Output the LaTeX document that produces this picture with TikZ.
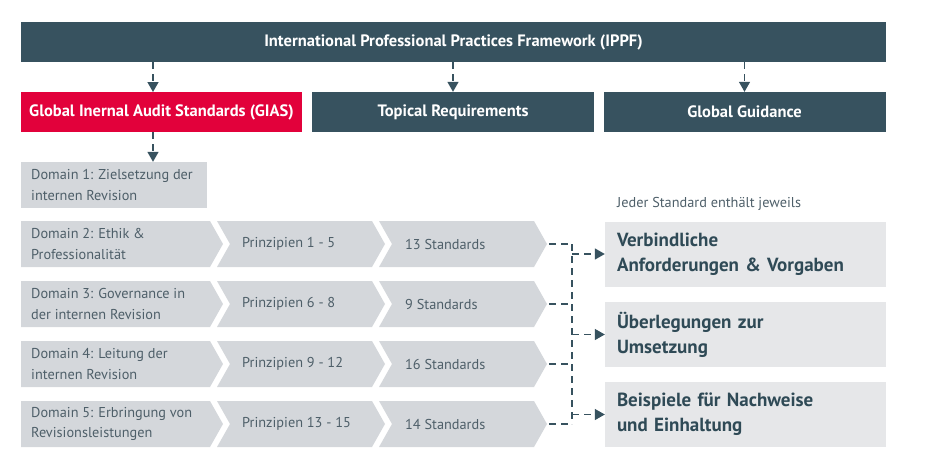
\documentclass[tikz,border=0pt]{standalone}
\usepackage{fontspec}
\setmainfont{PT Sans}
\usetikzlibrary{arrows.meta,positioning}

\definecolor{ippfblue}{HTML}{37525F}
\definecolor{giasred}{HTML}{E2013B}
\definecolor{chevgray}{HTML}{D4D7DB}
\definecolor{boxgray}{HTML}{E6E7E9}
\definecolor{txtgray}{HTML}{4E5F69}
\definecolor{boxtxt}{HTML}{2F4A56}

\begin{document}
\begin{tikzpicture}[x=1pt, y=-1pt,
    head/.style={fill=ippfblue, text=white, inner sep=0pt,
                 minimum height=40pt, font=\bfseries\fontsize{16.5}{18}\selectfont},
    chev/.style={fill=chevgray},
    lbl/.style={anchor=west, align=left, inner sep=0pt, text=txtgray,
                font=\fontsize{14.3}{20.5}\selectfont},
    result/.style={fill=boxgray, text=boxtxt, minimum width=281pt, minimum height=65pt,
                   inner xsep=12pt, text width=257pt, align=left,
                   font=\bfseries\fontsize{19}{25}\selectfont},
    dashline/.style={draw=ippfblue, line width=1.4pt, dash pattern=on 7pt off 5pt},
    flow/.style={dashline, -{Triangle[length=10pt,width=11pt]}}]

    \useasboundingbox (0,0) rectangle (930,469);

    \node[head, minimum width=865pt] (ippf) at (453.5,42)
        {International Professional Practices Framework (IPPF)};
    \node[head, fill=giasred, minimum width=281pt] (gias) at (161.5,112)
        {Global Inernal Audit Standards (GIAS)};
    \node[head, minimum width=282pt] (topical) at (453,112) {Topical Requirements};
    \node[head, minimum width=282pt] (guidance) at (744.5,112) {Global Guidance};

    \coordinate (giasin) at (153,92);
    \draw[flow] (giasin |- ippf.south) -- (giasin);
    \draw[flow] (topical.north |- ippf.south) -- (topical.north);
    \draw[flow] (guidance.north |- ippf.south) -- (guidance.north);

    \node[fill=chevgray, minimum width=186pt, minimum height=46pt, inner sep=0pt] (dom1) at (114,185) {};
    \node[lbl] (dom1text) at (31,185) {Domain 1: Zielsetzung der\\internen Revision};
    \draw[flow] (giasin |- gias.south) -- (giasin |- dom1.north);

    \foreach \i/\dom/\prin/\std in {
        2/{Domain 2: Ethik \&\\Professionalität}/{Prinzipien 1 - 5}/{13 Standards},
        3/{Domain 3: Governance in\\der internen Revision}/{Prinzipien 6 - 8}/{9 Standards},
        4/{Domain 4: Leitung der\\internen Revision}/{Prinzipien 9 - 12}/{16 Standards},
        5/{Domain 5: Erbringung von\\Revisionsleistungen}/{Prinzipien 13 - 15}/{14 Standards}} {
        \pgfmathsetmacro{\t}{221+60*(\i-2)}
        \pgfmathsetmacro{\m}{\t+23}
        \pgfmathsetmacro{\b}{\t+46}
        \fill[chev] (21,\t) -- (210,\t) -- (223,\m) -- (210,\b) -- (21,\b) -- cycle;
        \fill[chev] (217,\t) -- (372,\t) -- (385,\m) -- (372,\b) -- (217,\b) -- (230,\m) -- cycle;
        \fill[chev] (379,\t) -- (534,\t) -- (547,\m) -- (534,\b) -- (379,\b) -- (392,\m) -- cycle;
        \node[lbl] (D\i) at (31,\m) {\dom};
        \node[lbl] (P\i) at (242,\m) {\prin};
        \node[lbl] (S\i) at (405,\m) {\std};
        \coordinate (T\i) at (549,\m);
    }

    \node[anchor=west, inner sep=0pt, text=txtgray, font=\fontsize{14.3}{16}\selectfont]
        (note) at (617,204) {Jeder Standard enthält jeweils};

    \node[result] (V1) at (745.5,254) {Verbindliche\\Anforderungen \& Vorgaben};
    \node[result] (V2) at (745.5,334.5) {Überlegungen zur\\Umsetzung};
    \node[result] (V3) at (745.5,414.5) {Beispiele für Nachweise\\und Einhaltung};

    \coordinate (join) at (572,0);
    \foreach \i in {2,...,5} {
        \draw[dashline] (T\i) -- (T\i -| join);
    }
    \draw[dashline] (T2 -| join) -- (T5 -| join);
    \foreach \j in {1,2,3} {
        \draw[flow] (V\j.west -| join) -- (V\j.west);
    }

\end{tikzpicture}
\end{document}
